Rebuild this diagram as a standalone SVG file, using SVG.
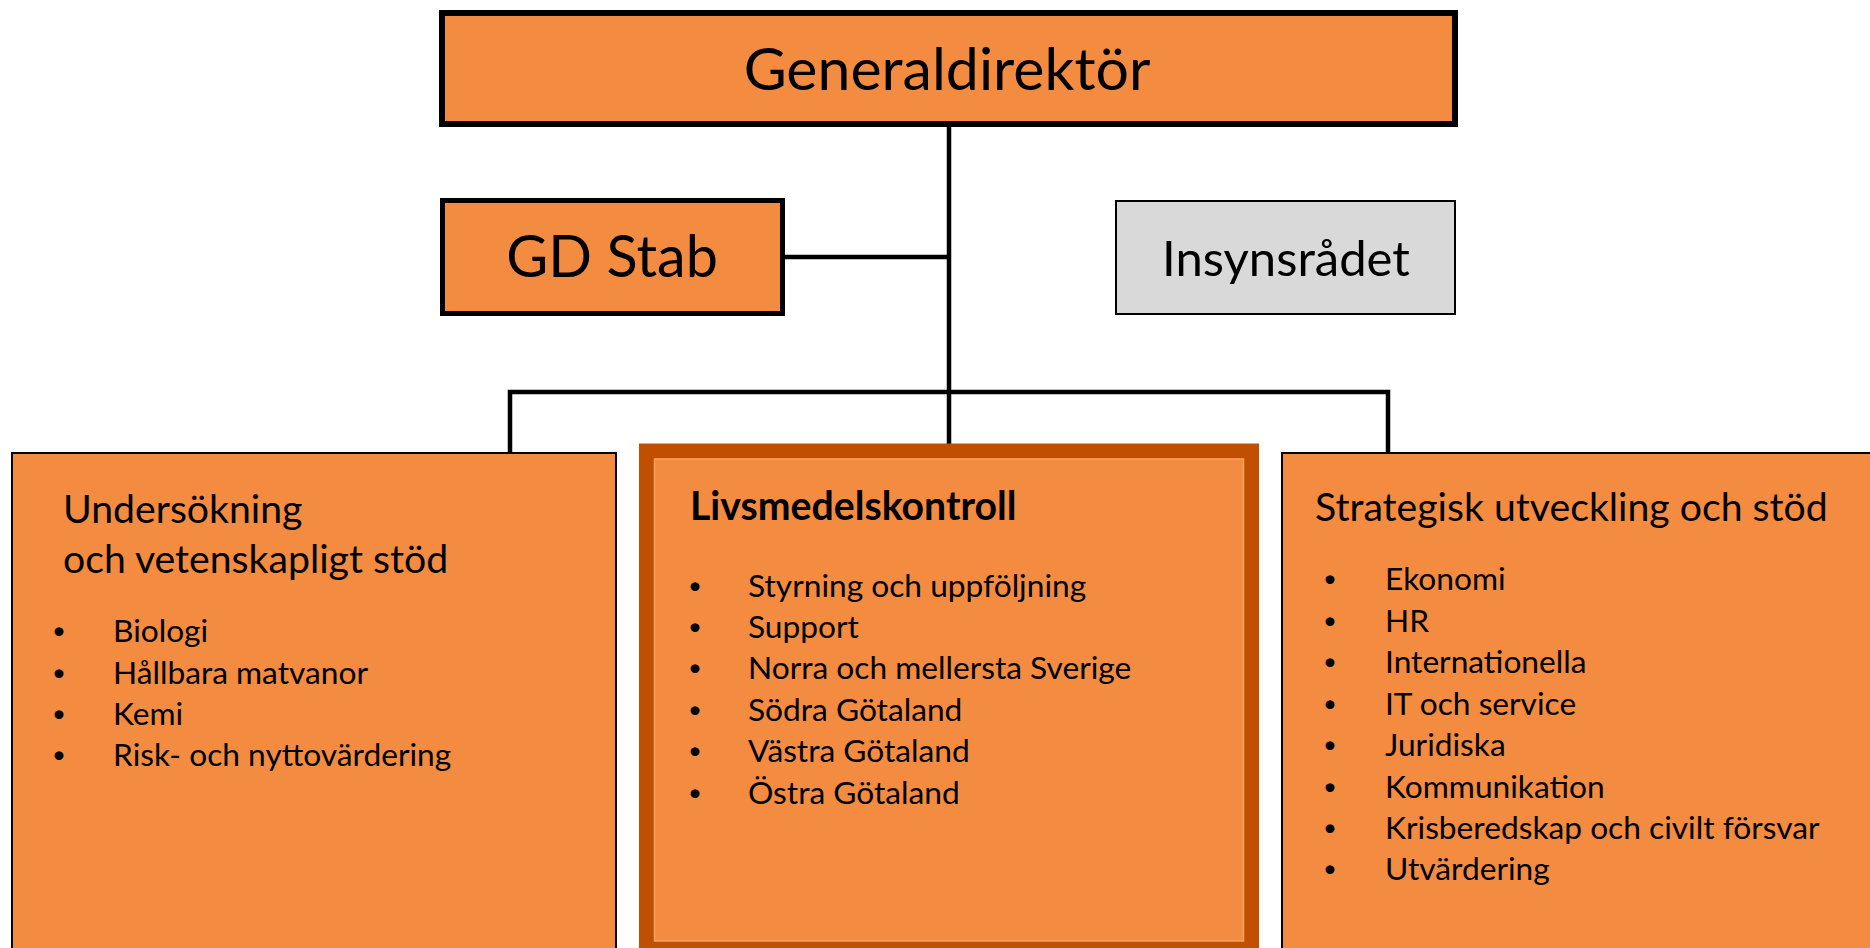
<svg xmlns="http://www.w3.org/2000/svg" width="1870" height="948" viewBox="0 0 1870 948">
<style>
.box{fill:#f38b41;stroke:#000}
.t{font-family:Lato,"Open Sans","Liberation Sans",sans-serif;fill:#000}
.title{font-size:39.2px}
.item{font-size:31.7px}
.b{font-size:24px}
.big{font-size:59px;text-anchor:middle}
.conn{fill:none;stroke:#000;stroke-width:4.5;stroke-linejoin:miter}
</style>
<rect width="1870" height="948" fill="#fff"/>
<g id="connectors">
<line class="conn" x1="949" y1="125" x2="949" y2="445"/>
<line class="conn" x1="783" y1="257" x2="949" y2="257"/>
<path class="conn" d="M510,452 V392 H1388 V452"/>
</g>
<g id="generaldirektor">
<rect class="box" x="442" y="13" width="1013" height="111" stroke-width="6"/>
<text class="t big" x="947" y="90" font-size="59.6">Generaldirektör</text>
</g>
<g id="gdstab">
<rect class="box" x="442.5" y="200.5" width="340" height="113" stroke-width="5"/>
<text class="t" x="612" y="277" font-size="57.5" text-anchor="middle">GD Stab</text>
</g>
<g id="insynsradet">
<rect x="1116" y="201" width="339" height="113" fill="#d9d9d9" stroke="#000" stroke-width="2"/>
<text class="t" x="1286" y="276" font-size="49" text-anchor="middle">Insynsrådet</text>
</g>
<g id="undersokning">
<rect class="box" x="12" y="453" width="604" height="520" stroke-width="2"/>
<text class="t title" x="63" y="523">Undersökning</text>
<text class="t title" x="63" y="573">och vetenskapligt stöd</text>
<g class="t item">
<text class="b" x="52" y="639">•</text><text x="113" y="642">Biologi</text>
<text class="b" x="52" y="681">•</text><text x="113" y="684">Hållbara matvanor</text>
<text class="b" x="52" y="722">•</text><text x="113" y="725">Kemi</text>
<text class="b" x="52" y="763">•</text><text x="113" y="766">Risk- och nyttovärdering</text>
</g>
</g>
<g id="livsmedelskontroll">
<rect x="646.5" y="451" width="605" height="497.5" fill="#f38b41" stroke="#c04f00" stroke-width="15"/>
<rect x="654.5" y="459" width="589" height="482" fill="none" stroke="#f6a264" stroke-width="1.5"/>
<text class="t title" x="690" y="520" font-weight="bold">Livsmedelskontroll</text>
<g class="t item">
<text class="b" x="688" y="594">•</text><text x="748" y="597">Styrning och uppföljning</text>
<text class="b" x="688" y="635">•</text><text x="748" y="638">Support</text>
<text class="b" x="688" y="676">•</text><text x="748" y="679">Norra och mellersta Sverige</text>
<text class="b" x="688" y="718">•</text><text x="748" y="721">Södra Götaland</text>
<text class="b" x="688" y="759">•</text><text x="748" y="762">Västra Götaland</text>
<text class="b" x="688" y="801">•</text><text x="748" y="804">Östra Götaland</text>
</g>
</g>
<g id="strategisk">
<rect class="box" x="1282" y="453" width="620" height="520" stroke-width="2"/>
<text class="t title" x="1315" y="521">Strategisk utveckling och stöd</text>
<g class="t item">
<text class="b" x="1323" y="587">•</text><text x="1385" y="590">Ekonomi</text>
<text class="b" x="1323" y="629">•</text><text x="1385" y="632">HR</text>
<text class="b" x="1323" y="670">•</text><text x="1385" y="673">Internationella</text>
<text class="b" x="1323" y="712">•</text><text x="1385" y="715">IT och service</text>
<text class="b" x="1323" y="753">•</text><text x="1385" y="756">Juridiska</text>
<text class="b" x="1323" y="795">•</text><text x="1385" y="798">Kommunikation</text>
<text class="b" x="1323" y="836">•</text><text x="1385" y="839">Krisberedskap och civilt försvar</text>
<text class="b" x="1323" y="877">•</text><text x="1385" y="880">Utvärdering</text>
</g>
</g>
</svg>
